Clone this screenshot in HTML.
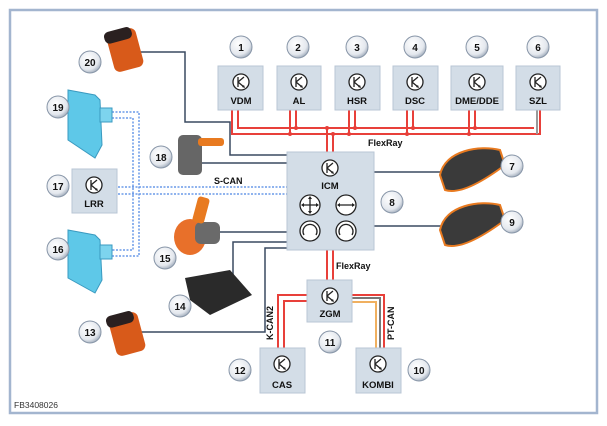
<!DOCTYPE html>
<html><head><meta charset="utf-8"><style>body{margin:0;background:#fff}svg{display:block}text{font-family:"Liberation Sans",sans-serif;font-weight:bold}</style></head><body>
<svg width="607" height="426" viewBox="0 0 607 426" xmlns="http://www.w3.org/2000/svg">
<defs>
<radialGradient id="cg" cx="0.4" cy="0.35" r="0.7"><stop offset="0" stop-color="#fff"/><stop offset="0.7" stop-color="#e4e8ee"/><stop offset="1" stop-color="#9aa6b6"/></radialGradient>
<g id="tr"><circle r="8" fill="#fff" stroke="#222" stroke-width="1.3"/><path d="M-3,-5V5M-3,0L3,-5M-3,0L3,5" stroke="#222" stroke-width="1.3" fill="none"/><path d="M4,6L1,5L3,3Z" fill="#222"/></g>
</defs>
<rect x="10" y="10" width="587" height="403" fill="#fff" stroke="#a3b5cf" stroke-width="2.5"/>
<g fill="none" stroke-width="2">
<g stroke="#e8403a">
<path d="M232,110V134H540V110M238,110V128H534"/>
<path d="M290,110V134M296,110V128M349,110V134M355,110V128M407,110V134M413,110V128M469,110V134M475,110V128"/>
<path d="M327,128V152M333,134V152"/>
<path d="M327,250V280M333,250V280"/>
<path d="M307,295H278V348M307,301H284V348"/>
</g>
<path d="M537,110V134" stroke="#999"/>
<path d="M352,295H384V348" stroke="#e8403a"/>
<path d="M352,298H380V348" stroke="#777"/>
<path d="M352,302H376V348" stroke="#f0b060"/>
</g>
<g fill="#e8403a"><circle cx="290" cy="134" r="2"/><circle cx="296" cy="128" r="2"/><circle cx="349" cy="134" r="2"/><circle cx="355" cy="128" r="2"/><circle cx="407" cy="134" r="2"/><circle cx="413" cy="128" r="2"/><circle cx="469" cy="134" r="2"/><circle cx="475" cy="128" r="2"/><circle cx="327" cy="128" r="2"/><circle cx="333" cy="134" r="2"/></g>
<g fill="none" stroke="#3a4a60" stroke-width="1.5">
<path d="M140,52H185V122H230V155H287"/>
<path d="M200,163H287"/>
<path d="M218,232H287"/>
<path d="M287,242H233V290"/>
<path d="M287,248H265V332H140"/>
<path d="M374,172H450M374,226H450"/>
</g>
<g fill="none" stroke="#6a9ae8" stroke-width="1.5" stroke-dasharray="2,1.5">
<path d="M118,187H287M118,194H287"/>
<path d="M112,112H139V256H112M112,118H133V250H112"/>
</g>
<g fill="#d3dde7" stroke="#b8c6d4">
<rect x="218" y="66" width="45" height="44"/><rect x="277" y="66" width="44" height="44"/><rect x="335" y="66" width="45" height="44"/><rect x="393" y="66" width="45" height="44"/><rect x="451" y="66" width="52" height="44"/><rect x="516" y="66" width="44" height="44"/>
<rect x="287" y="152" width="87" height="98"/><rect x="307" y="280" width="45" height="42"/><rect x="260" y="348" width="45" height="45"/><rect x="356" y="348" width="45" height="45"/><rect x="72" y="169" width="45" height="44"/>
</g>
<g>
<use href="#tr" x="241" y="82"/><use href="#tr" x="299" y="82"/><use href="#tr" x="357" y="82"/><use href="#tr" x="415" y="82"/><use href="#tr" x="477" y="82"/><use href="#tr" x="538" y="82"/>
<use href="#tr" x="330" y="168"/><use href="#tr" x="330" y="296"/><use href="#tr" x="282" y="364"/><use href="#tr" x="378" y="364"/><use href="#tr" x="94" y="185"/>
</g>
<g font-size="9.5" text-anchor="middle" fill="#111">
<text x="241" y="104">VDM</text><text x="299" y="104">AL</text><text x="357" y="104">HSR</text><text x="415" y="104">DSC</text><text x="477" y="104">DME/DDE</text><text x="538" y="104">SZL</text>
<text x="330" y="189">ICM</text><text x="330" y="317">ZGM</text><text x="282" y="388">CAS</text><text x="378" y="388">KOMBI</text><text x="94" y="207">LRR</text>
</g>
<g fill="#fff" stroke="#222" stroke-width="1.3">
<circle cx="310" cy="205" r="10"/><circle cx="346" cy="205" r="10"/><circle cx="310" cy="231" r="10"/><circle cx="346" cy="231" r="10"/>
</g>
<g stroke="#222" stroke-width="1.3" fill="none">
<path d="M310,198V212M303,205H317M338,205H354"/>
<path d="M304,235A7,7 0 1 1 316,235M340,235A7,7 0 1 1 352,235"/>
</g>
<g fill="#222"><path d="M310,196L308,199H312ZM310,214L308,211H312ZM301,205L304,203V207ZM319,205L316,203V207ZM337,205L340,203V207ZM355,205L352,203V207Z"/></g>
<g font-size="9" fill="#111">
<text x="368" y="146">FlexRay</text><text x="336" y="269">FlexRay</text>
<text x="214" y="184">S-CAN</text>
<text transform="translate(273,340) rotate(-90)">K-CAN2</text>
<text transform="translate(394,340) rotate(-90)">PT-CAN</text>
</g>
<text x="14" y="408" font-size="8.5" fill="#333" style="font-weight:normal">FB3408026</text>
<g>
<rect x="110" y="30" width="30" height="40" rx="6" fill="#d85a1a" transform="rotate(-15 125 50)"/>
<rect x="108" y="28" width="28" height="12" rx="5" fill="#2a2020" transform="rotate(-15 125 50)"/>
<rect x="112" y="314" width="30" height="40" rx="6" fill="#d85a1a" transform="rotate(-15 127 334)"/>
<rect x="110" y="312" width="28" height="12" rx="5" fill="#2a2020" transform="rotate(-15 127 334)"/>
<polygon points="68,90 95,95 100,100 102,145 95,158 68,140" fill="#5ec8e8" stroke="#3a9ac0"/>
<rect x="100" y="108" width="12" height="14" fill="#7dd4ee" stroke="#3a9ac0"/>
<polygon points="68,230 95,235 100,240 102,280 95,293 68,278" fill="#5ec8e8" stroke="#3a9ac0"/>
<rect x="100" y="245" width="12" height="14" fill="#7dd4ee" stroke="#3a9ac0"/>
<rect x="178" y="135" width="24" height="40" rx="5" fill="#666"/><rect x="198" y="138" width="26" height="8" rx="3" fill="#e87a20"/>
<ellipse cx="190" cy="237" rx="16" ry="18" fill="#e8702a"/><rect x="195" y="222" width="25" height="22" rx="6" fill="#6a6a6a"/><rect x="195" y="197" width="12" height="26" rx="3" fill="#e87a20" transform="rotate(15 201 210)"/>
<polygon points="185,278 230,270 252,295 210,315 190,300" fill="#2a2a2a"/>
<path d="M440,175C445,150 480,145 500,150L505,165C485,180 460,195 445,190Z" fill="#3a3a3a" stroke="#e87a20" stroke-width="2"/>
<path d="M440,230C445,205 480,200 500,205L505,220C485,235 460,250 445,245Z" fill="#3a3a3a" stroke="#e87a20" stroke-width="2"/>
</g>
<g fill="url(#cg)" stroke="#8896a8" stroke-width="1">
<circle cx="241" cy="47" r="11"/><circle cx="298" cy="47" r="11"/><circle cx="357" cy="47" r="11"/><circle cx="415" cy="47" r="11"/><circle cx="477" cy="47" r="11"/><circle cx="538" cy="47" r="11"/>
<circle cx="512" cy="166" r="11"/><circle cx="392" cy="202" r="11"/><circle cx="512" cy="222" r="11"/><circle cx="419" cy="370" r="11"/><circle cx="330" cy="342" r="11"/><circle cx="240" cy="370" r="11"/>
<circle cx="90" cy="332" r="11"/><circle cx="180" cy="306" r="11"/><circle cx="165" cy="258" r="11"/><circle cx="58" cy="249" r="11"/><circle cx="58" cy="186" r="11"/><circle cx="161" cy="157" r="11"/><circle cx="58" cy="107" r="11"/><circle cx="90" cy="62" r="11"/>
</g>
<g font-size="10" text-anchor="middle" fill="#111">
<text x="241" y="51">1</text><text x="298" y="51">2</text><text x="357" y="51">3</text><text x="415" y="51">4</text><text x="477" y="51">5</text><text x="538" y="51">6</text>
<text x="512" y="170">7</text><text x="392" y="206">8</text><text x="512" y="226">9</text><text x="419" y="374">10</text><text x="330" y="346">11</text><text x="240" y="374">12</text>
<text x="90" y="336">13</text><text x="180" y="310">14</text><text x="165" y="262">15</text><text x="58" y="253">16</text><text x="58" y="190">17</text><text x="161" y="161">18</text><text x="58" y="111">19</text><text x="90" y="66">20</text>
</g>
</svg>
</body></html>
